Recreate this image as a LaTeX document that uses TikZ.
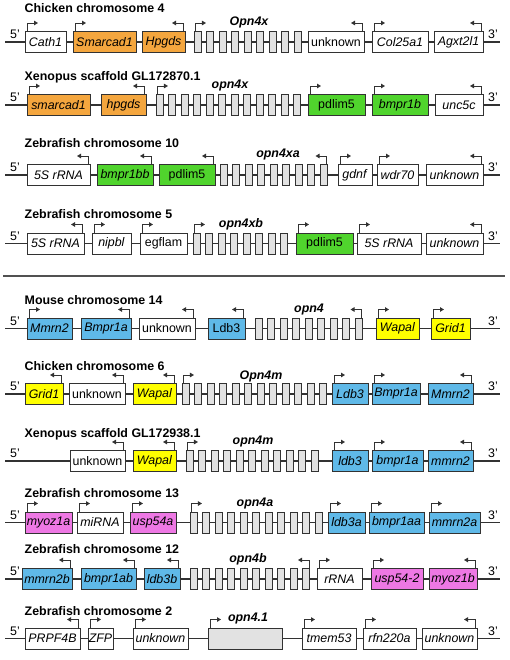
\documentclass[tikz,border=0pt]{standalone}
\usepackage{fontspec}
\setmainfont{Liberation Sans}
\usepackage{tikz}
\usetikzlibrary{arrows.meta}

\definecolor{orng}{RGB}{244,166,62}
\definecolor{grn}{RGB}{80,212,45}
\definecolor{blu}{RGB}{95,185,232}
\definecolor{yel}{RGB}{255,255,0}
\definecolor{pnk}{RGB}{238,120,228}
\definecolor{exo}{RGB}{226,226,226}
\definecolor{ink}{RGB}{50,50,50}

\tikzset{
  lbl/.style={font=\fontsize{9.3}{11}\selectfont},
  gene/.style={lbl,draw=ink,line width=0.75pt,minimum height=15.75pt,inner sep=0pt},
  exon/.style={draw=ink,line width=0.75pt,fill=exo,minimum width=5.6pt,minimum height=15.75pt,inner sep=0pt},
  chrom/.style={ink,line width=1.1pt},
  tss/.style={ink,line width=0.7pt,-{Triangle[length=3pt,width=3.4pt]}},
  ttl/.style={anchor=base west,font=\bfseries\fontsize{9.3}{11}\selectfont},
  gname/.style={font=\bfseries\itshape\fontsize{9.3}{11}\selectfont}
}

% name, title, title baseline, line y
\newcommand{\chrline}[4]{
  \node[ttl] (#1t) at (20,#3) {#2};
  \coordinate (#1a) at (5,#4);
  \coordinate (#1b) at (500,#4);
  \draw[chrom] (#1a) -- (#1b);
  \node[lbl] (#1p5) at (15,#4-7.5) {5'};
  \node[lbl] (#1p3) at (493,#4-7.5) {3'};
}
% name, line y, first x, count
\newcommand{\exons}[4]{
  \foreach \k in {1,...,#4}
    \node[exon] (#1x\k) at ({#3+3.75+12.5*(\k-1)},#2) {};
}
% name, line y, left/right/label/fill/direction
\newcommand{\genes}[3]{
  \foreach \a/\b/\lab/\col/\d [count=\i] in {#3}{
    \node[gene,fill=\col,minimum width={(\b-\a)*0.75pt}] (#1g\i) at ({(\a+\b)/2},#2) {\lab};
    \draw[tss] ([xshift={\d*(2-(\b-\a)/2)*0.75pt}]#1g\i.north) -- ++(0,-8) -- ++({11*\d},0);
  }
}

\begin{document}
\begin{tikzpicture}[x=0.75pt,y=-0.75pt]
  \useasboundingbox (0,0) rectangle (510,660);

  \chrline{cA}{Chicken chromosome 4}{13}{42}
  \exons{cA}{42}{194}{9}
  \draw[tss] ([xshift=1.1pt]cAx1.north west) -- ++(0,-8) -- ++(11,0);
  \node[gname] (cAn) at (249,22) {Opn4x};
  \genes{cA}{42}{25/66/\textit{Cath1}/white/1, 73/136/\textit{Smarcad1}/orng/1,
    142/185/\textit{Hpgds}/orng/-1, 308/364/unknown/white/-1,
    372/428/\textit{Col25a1}/white/1, 434/483/\textit{Agxt2l1}/white/-1}

  \chrline{xA}{Xenopus scaffold GL172870.1}{80}{105}
  \exons{xA}{105}{156}{12}
  \draw[tss] ([xshift=1.1pt]xAx1.north west) -- ++(0,-8) -- ++(11,0);
  \node[gname] (xAn) at (230,86) {opn4x};
  \genes{xA}{105}{27/90/\textit{smarcad1}/orng/1, 101/146/\textit{hpgds}/orng/-1,
    308/365/pdlim5/grn/1, 372/428/\textit{bmpr1b}/grn/1, 435/483/\textit{unc5c}/white/-1}

  \chrline{zA}{Zebrafish chromosome 10}{147}{175}
  \exons{zA}{175}{220}{9}
  \draw[tss] ([xshift=-1.1pt]zAx9.north east) -- ++(0,-8) -- ++(-11,0);
  \node[gname] (zAn) at (278,155) {opn4xa};
  \genes{zA}{175}{27/90/\textit{5S rRNA}/white/-1, 97/153/\textit{bmpr1bb}/grn/-1,
    159/215/pdlim5/grn/-1, 338/372/\textit{gdnf}/white/1, 377/418/\textit{wdr70}/white/1,
    426/483/\textit{unknown}/white/-1}

  \chrline{zB}{Zebrafish chromosome 5}{218}{243.5}
  \exons{zB}{243.5}{193}{8}
  \draw[tss] ([xshift=1.1pt]zBx1.north west) -- ++(0,-8) -- ++(11,0);
  \node[gname] (zBn) at (241,224) {opn4xb};
  \genes{zB}{243.5}{27/84/\textit{5S rRNA}/white/-1, 92/131/\textit{nipbl}/white/1,
    140/187/egflam/white/1, 296/353/pdlim5/grn/1, 357/421/\textit{5S rRNA}/white/1,
    426/483/\textit{unknown}/white/-1}

  \coordinate (sepa) at (3,276);
  \coordinate (sepb) at (505,276);
  \draw[line width=1.8pt,ink!85] (sepa) -- (sepb);

  \chrline{mA}{Mouse chromosome 14}{304}{328.5}
  \exons{mA}{328.5}{255}{9}
  \draw[tss] ([xshift=-1.1pt]mAx9.north east) -- ++(0,-8) -- ++(-11,0);
  \node[gname] (mAn) at (309,310) {opn4};
  \genes{mA}{328.5}{27/72/\textit{Mmrn2}/blu/1, 81/131/\textit{Bmpr1a}/blu/-1,
    139/195/unknown/white/-1, 208/245/Ldb3/blu/-1, 376/419/\textit{Wapal}/yel/1,
    431/470/\textit{Grid1}/yel/1}

  \chrline{cB}{Chicken chromosome 6}{370}{394}
  \exons{cB}{394}{182}{12}
  \draw[tss] ([xshift=1.1pt]cBx1.north west) -- ++(0,-8) -- ++(11,0);
  \node[gname] (cBn) at (261,376) {Opn4m};
  \genes{cB}{394}{25/63/\textit{Grid1}/yel/-1, 69/125/unknown/white/-1,
    133/176/\textit{Wapal}/yel/-1, 332/368/\textit{Ldb3}/blu/1, 372/420/\textit{Bmpr1a}/blu/1,
    428/473/\textit{Mmrn2}/blu/-1}

  \chrline{xB}{Xenopus scaffold GL172938.1}{437}{461}
  \exons{xB}{461}{186}{11}
  \draw[tss] ([xshift=1.1pt]xBx1.north west) -- ++(0,-8) -- ++(11,0);
  \node[gname] (xBn) at (253,442) {opn4m};
  \genes{xB}{461}{70/125/unknown/white/-1, 133/176/\textit{Wapal}/yel/-1,
    332/368/\textit{ldb3}/blu/1, 372/423/\textit{bmpr1a}/blu/1, 428/473/\textit{mmrn2}/blu/-1}

  \chrline{zC}{Zebrafish chromosome 13}{497}{522.5}
  \exons{zC}{522.5}{190}{11}
  \draw[tss] ([xshift=1.1pt]zCx1.north west) -- ++(0,-8) -- ++(11,0);
  \node[gname] (zCn) at (255,504) {opn4a};
  \genes{zC}{522.5}{25/72/\textit{myoz1a}/pnk/1, 77/123/\textit{miRNA}/white/1,
    130/176/\textit{usp54a}/pnk/1, 328/365/\textit{ldb3a}/blu/1, 369/424/\textit{bmpr1aa}/blu/1,
    429/480/\textit{mmrn2a}/blu/1}

  \chrline{zD}{Zebrafish chromosome 12}{553}{579}
  \exons{zD}{579}{190}{10}
  \draw[tss] ([xshift=-1.1pt]zDx10.north east) -- ++(0,-8) -- ++(-11,0);
  \node[gname] (zDn) at (248,559) {opn4b};
  \genes{zD}{579}{22/72/\textit{mmrn2b}/blu/-1, 81/136/\textit{bmpr1ab}/blu/-1,
    144/180/\textit{ldb3b}/blu/-1, 317/362/\textit{rRNA}/white/1, 371/423/\textit{usp54-2}/pnk/1,
    429/477/\textit{myoz1b}/pnk/-1}

  \chrline{zE}{Zebrafish chromosome 2}{615}{638.5}
  \node[gname] (zEn) at (248,619) {opn4.1};
  \genes{zE}{638.5}{25/80/\textit{PRPF4B}/white/-1, 88/113/\textit{ZFP}/white/1,
    133/188/\textit{unknown}/white/1, 208/282//exo/1, 302/356/\textit{tmem53}/white/1,
    363/416/\textit{rfn220a}/white/1, 422/477/\textit{unknown}/white/-1}
\end{tikzpicture}
\end{document}
